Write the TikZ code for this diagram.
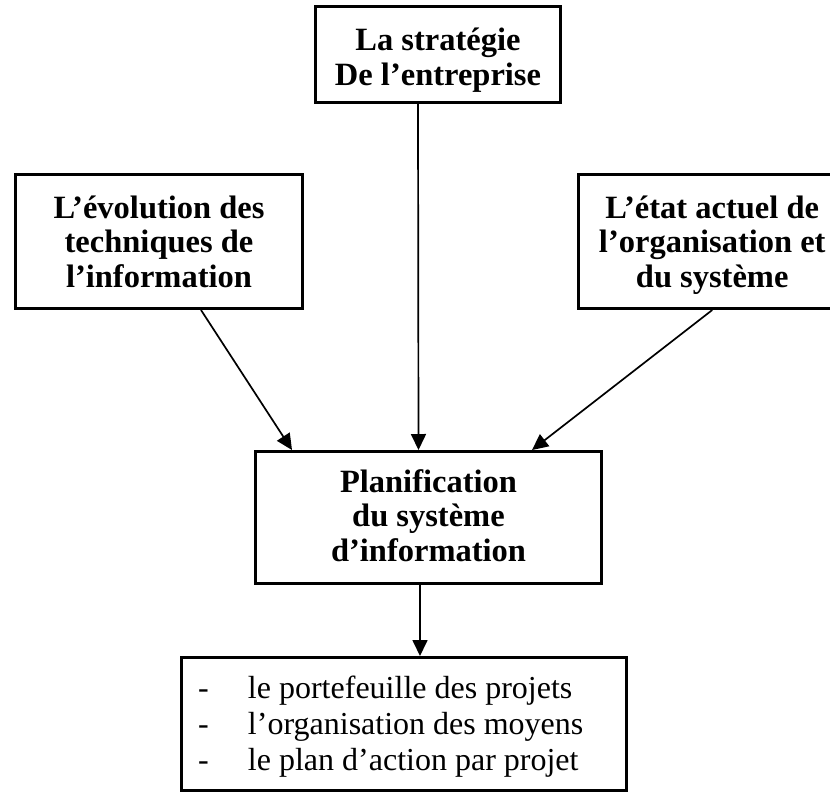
\documentclass[tikz,border=0pt]{standalone}
\usepackage{fontspec}
\setmainfont{Liberation Serif}
\usetikzlibrary{arrows.meta}
\newcommand{\boxlines}[1]{\begin{tabular}[t]{@{}c@{}}#1\end{tabular}}
\newcommand{\dashline}[1]{\makebox[445pt][l]{\hspace{16.5pt}\makebox[50pt][l]{-}#1}}
\tikzset{
  box/.style={draw, line width=3pt, rectangle, inner sep=0pt, text height=2pt,
    font={\bfseries\fontsize{32.5}{34.5}\selectfont}},
  listbox/.style={draw, line width=3pt, rectangle, inner sep=0pt, text height=2pt,
    font={\fontsize{32}{36.3}\selectfont}},
  link/.style={line width=1.7pt, -{Triangle[length=16pt,width=15pt]}},
}
\begin{document}
\begin{tikzpicture}[x=1pt,y=-1pt]
\clip (0,0) rectangle (830,793);
\fill[white] (0,0) rectangle (830,793);
\node[box, text depth=10pt, minimum width=245pt, minimum height=96pt] (ts) at (438,54.5)
  {\boxlines{La stratégie\\De l’entreprise}};
\node[box, text depth=49pt, minimum width=287pt, minimum height=134pt] (lb) at (159,241.5)
  {\boxlines{L’évolution des\\techniques de\\l’information}};
\node[box, text depth=49pt, minimum width=267.5pt, minimum height=134pt] (rb) at (712.25,241.5)
  {\boxlines{L’état actuel de\\l’organisation et\\du système}};
\node[box, text depth=53pt, minimum width=346pt, minimum height=132pt] (pl) at (428.5,517.5)
  {\boxlines{Planification\\du système\\d’information}};
\node[listbox, text depth=54pt, minimum width=445pt, minimum height=133pt] (bb) at (404,724)
  {\begin{tabular}[t]{@{}l@{}}\dashline{le portefeuille des projets}\\\dashline{l’organisation des moyens}\\\dashline{le plan d’action par projet}\end{tabular}};
\draw[link] ([xshift=42pt]lb.south) -- ([xshift=-136.5pt]pl.north);
\draw[link] ([xshift=-20pt]ts.south) -- ([xshift=-10pt]pl.north);
\draw[link] ([xshift=0pt]rb.south) -- ([xshift=103.5pt]pl.north);
\draw[link] ([xshift=-8.5pt]pl.south) -- ([xshift=16pt]bb.north);
\end{tikzpicture}
\end{document}
